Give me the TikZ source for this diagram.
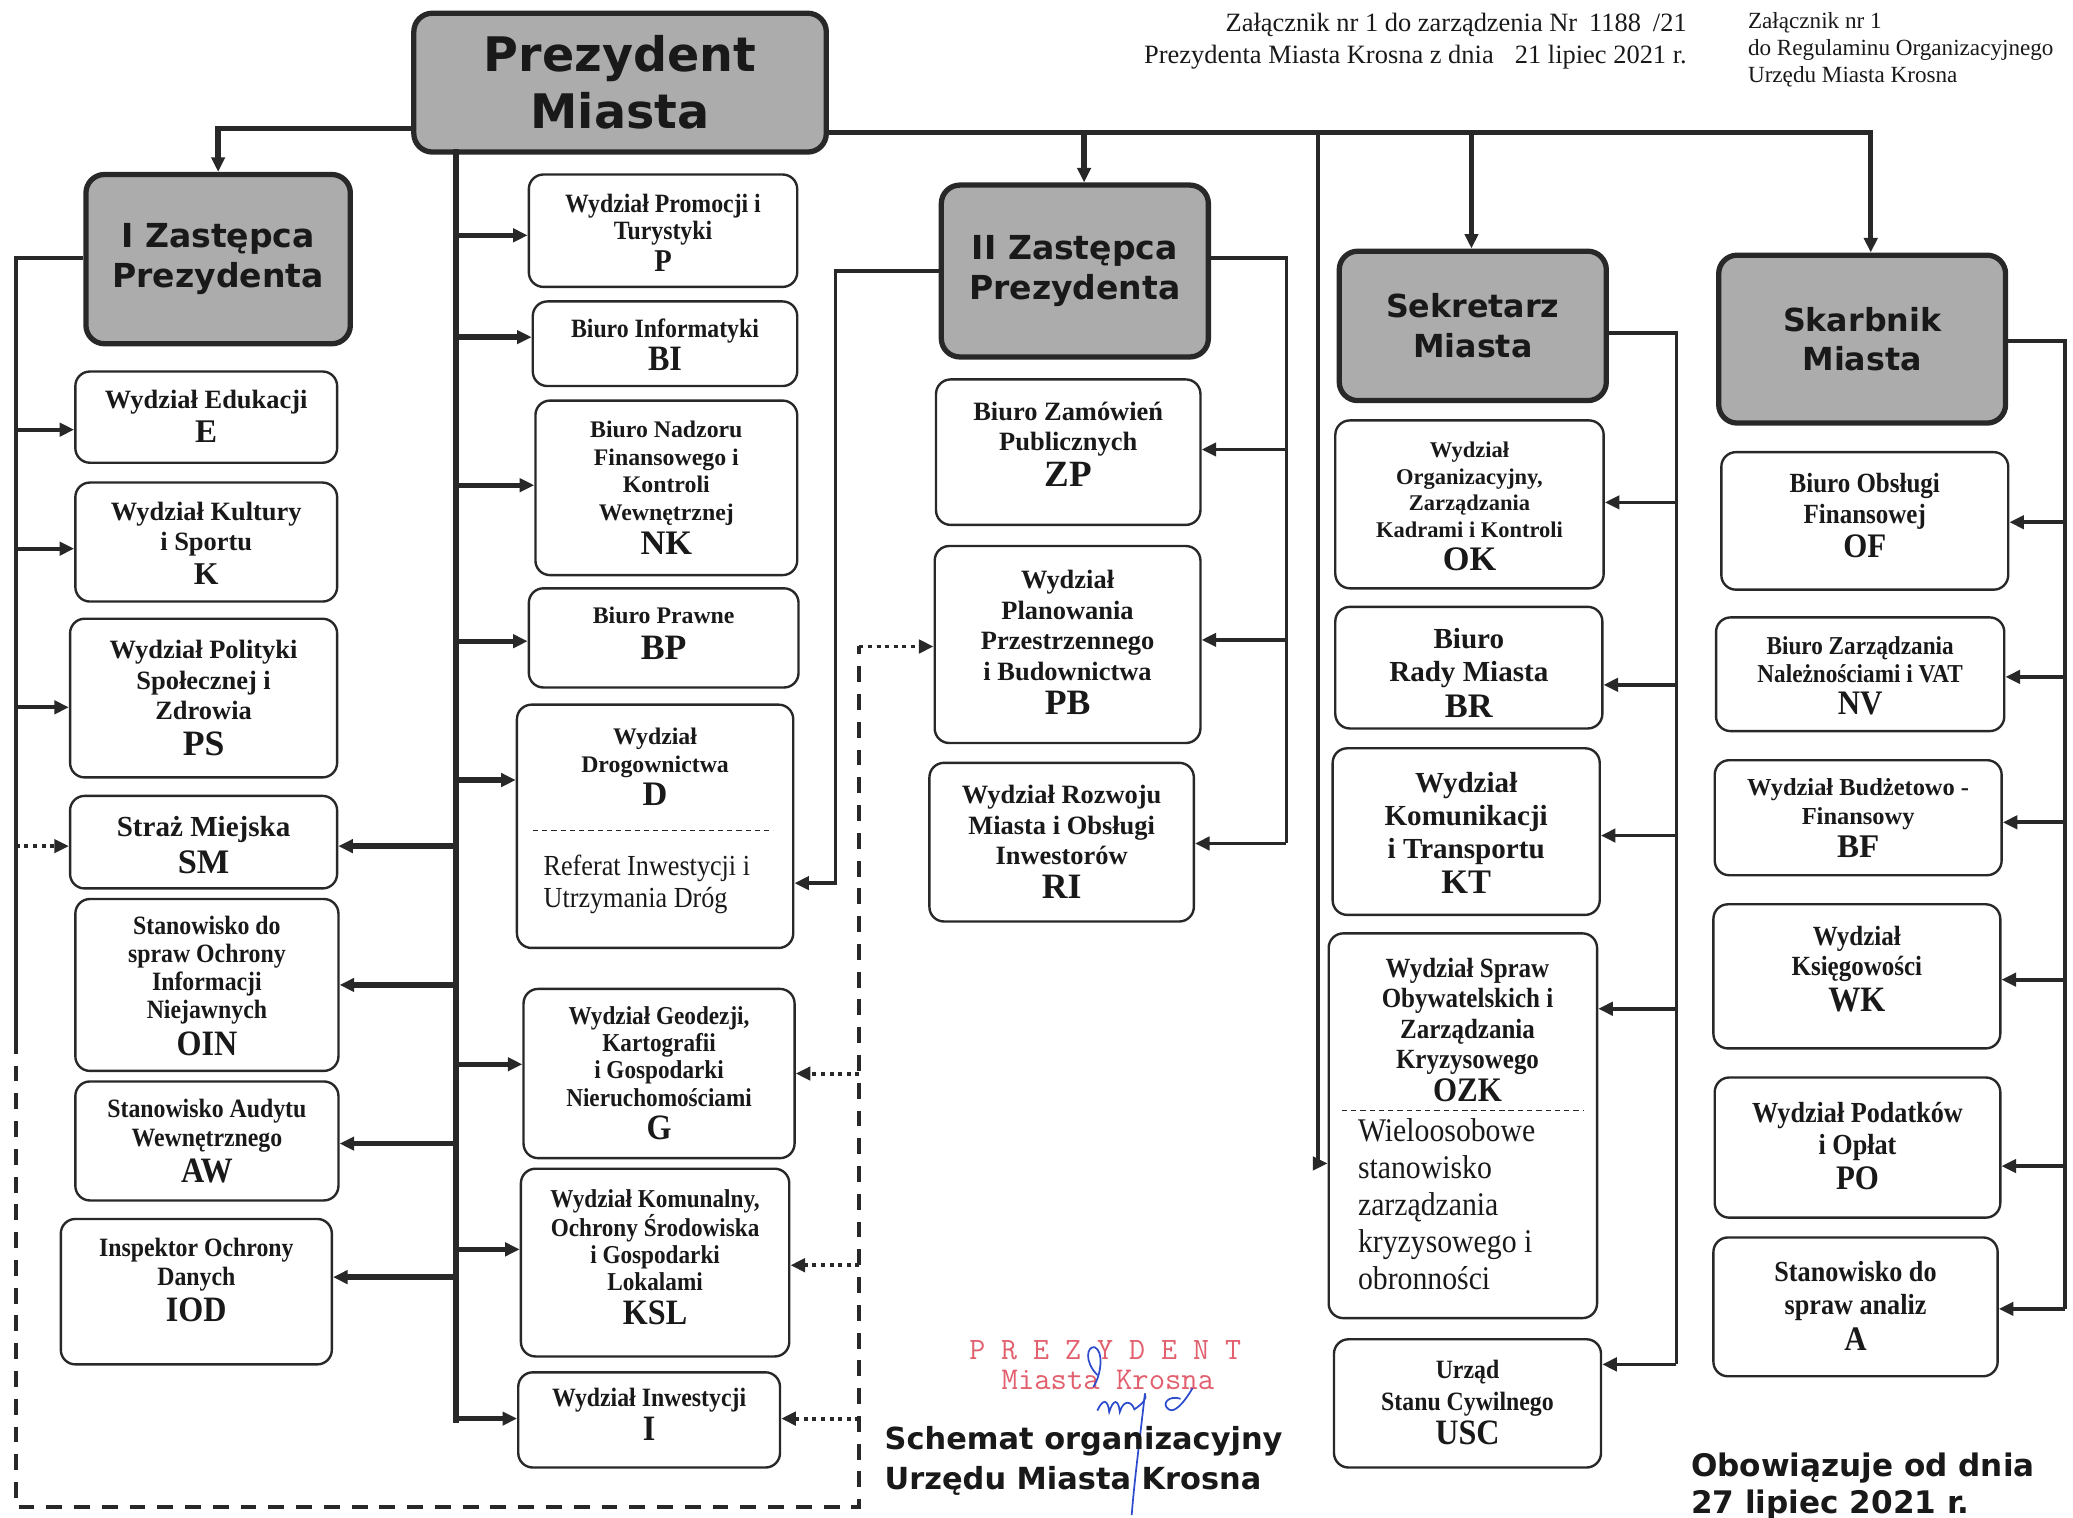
\documentclass[tikz,border=0pt]{standalone}
\usepackage{fontspec}
\setmainfont{Liberation Serif}
\newfontfamily\hsans{DejaVu Sans}
\newfontfamily\ser{Liberation Serif}
\newfontfamily\serc[FakeStretch=0.9]{Liberation Serif}
\usetikzlibrary{arrows.meta}
\newcommand\fsz[2]{\fontsize{#1}{#2}\selectfont}
\newcommand\nbf{\ser\bfseries}
\newcommand\cbf{\serc\bfseries}
\definecolor{gfill}{RGB}{172,172,172}
\definecolor{lc}{RGB}{40,40,40}
\definecolor{tc}{RGB}{25,25,25}
\definecolor{stampred}{RGB}{226,96,110}
\definecolor{inkblue}{RGB}{45,75,205}
\tikzset{
 wbox/.style={draw=lc, line width=1.8pt, rounded corners=11pt, fill=white, inner sep=0pt},
 gbox/.style={draw=lc, line width=4pt, rounded corners=14pt, fill=gfill, align=center, inner sep=0pt, text=tc},
 txt/.style={align=center, inner sep=0pt, text=tc},
 bus/.style={draw=lc, line width=4pt},
 sub/.style={draw=lc, line width=2.8pt},
 arr/.style={-{Triangle[length=11pt,width=10pt]}},
 dotline/.style={draw=lc, line width=3pt, dash pattern=on 3pt off 3.5pt},
 dashline/.style={draw=lc, line width=3pt, dash pattern=on 12pt off 9pt},
 sep/.style={draw=lc, line width=0.8pt, dash pattern=on 4pt off 3pt},
}
\newcommand\ubox[8]{%
 \node[wbox, minimum width=#4pt, minimum height=#5pt] (#1) at (#2,#3) {};
 \node[txt, font=#7] (#1t) at (#2,#6) {#8};}
\begin{document}
\begin{tikzpicture}[x=1pt,y=-1pt]
\useasboundingbox (0,0) rectangle (1568,1148);
\fill[white] (0,0) rectangle (1568,1148);

% header
\node[txt, anchor=east, font=\ser\fsz{20}{22}] (h1) at (1276,19) {Załącznik nr 1 do zarządzenia Nr\hspace{9pt}1188\hspace{9pt}/21};
\node[txt, anchor=east, font=\ser\fsz{20}{22}] (h2) at (1276,43) {Prezydenta Miasta Krosna z dnia\hspace{16pt}21 lipiec 2021 r.};
\node[txt, anchor=north west, align=left, font=\ser\fsz{17.5}{20.5}] (h3) at (1322,9) {Załącznik nr 1\\do Regulaminu Organizacyjnego\\Urzędu Miasta Krosna};

% heads
\node[gbox, font=\hsans\bfseries\fsz{36}{43}, minimum width=312pt, minimum height=105pt] (P0) at (469,62.5) {Prezydent\\Miasta};
\node[gbox, font=\hsans\bfseries\fsz{25}{30}, minimum width=200pt, minimum height=128pt] (Z1) at (165,196) {I Zastępca\\Prezydenta};
\node[gbox, font=\hsans\bfseries\fsz{25}{30}, minimum width=202pt, minimum height=130pt] (Z2) at (813,205) {II Zastępca\\Prezydenta};
\node[gbox, font=\hsans\bfseries\fsz{24}{30}, minimum width=202pt, minimum height=113pt] (SEK) at (1114,246.5) {Sekretarz\\Miasta};
\node[gbox, font=\hsans\bfseries\fsz{24}{30}, minimum width=217pt, minimum height=127pt] (SKA) at (1408.5,256.5) {Skarbnik\\Miasta};

% column 1
\ubox{E}{156}{315.5}{198}{69}{315}{\nbf\fsz{20}{23}}{Wydział Edukacji\\[3pt]\fsz{25}{25}E}
\ubox{K}{156}{410}{198}{90}{411}{\nbf\fsz{20}{23}}{Wydział Kultury\\i Sportu\\[3pt]\fsz{24}{24}K}
\ubox{PS}{154}{528}{202}{120}{528}{\nbf\fsz{20}{23}}{Wydział Polityki\\Społecznej i\\Zdrowia\\[4pt]\fsz{27}{27}PS}
\ubox{SM}{154}{637}{202}{70}{639}{\nbf\fsz{22}{25}}{Straż Miejska\\[3pt]\fsz{26}{26}SM}
\ubox{OIN}{156.5}{745}{199}{130}{746}{\cbf\fsz{20}{21}}{Stanowisko do\\spraw Ochrony\\Informacji\\Niejawnych\\[5pt]\fsz{27}{27}OIN}
\ubox{AW}{156.5}{863}{199}{90}{863}{\cbf\fsz{20}{22}}{Stanowisko Audytu\\Wewnętrznego\\[4pt]\fsz{27}{27}AW}
\ubox{IOD}{148.5}{977}{205}{110}{968}{\cbf\fsz{20}{22}}{Inspektor Ochrony\\Danych\\[4pt]\fsz{27}{27}IOD}

% column 2
\ubox{P}{501.5}{174.5}{203}{85}{176}{\cbf\fsz{20}{21}}{Wydział Promocji i\\Turystyki\\[3pt]\fsz{24}{24}P}
\ubox{BI}{503}{260}{200}{64}{261}{\cbf\fsz{20}{22}}{Biuro Informatyki\\[3pt]\fsz{27}{27}BI}
\ubox{NK}{504}{369}{198}{132}{369}{\nbf\fsz{18}{21}}{Biuro Nadzoru\\Finansowego i\\Kontroli\\Wewnętrznej\\[5pt]\fsz{26}{26}NK}
\ubox{BP}{502}{482.5}{204}{75}{479}{\nbf\fsz{18}{22}}{Biuro Prawne\\[5pt]\fsz{27}{27}BP}
\node[wbox, minimum width=209pt, minimum height=184pt] (D) at (495.5,625) {};
\node[txt, font=\nbf\fsz{18}{21}] (Dt) at (495.5,580) {Wydział\\Drogownictwa\\[4pt]\fsz{26}{26}D};
\draw[sep] (403,628) -- (585,628);
\node[txt, anchor=west, align=left, font=\serc\fsz{22}{24}] (Dr) at (411,669) {Referat Inwestycji i\\Utrzymania Dróg};
\ubox{G}{498.5}{812}{205}{128}{812}{\cbf\fsz{19.5}{20.5}}{Wydział Geodezji,\\Kartografii\\i Gospodarki\\Nieruchomościami\\[5pt]\fsz{27}{27}G}
\ubox{KSL}{495.5}{955}{203}{142}{951}{\cbf\fsz{19.5}{20.5}}{Wydział Komunalny,\\Ochrony Środowiska\\i Gospodarki\\Lokalami\\[5pt]\fsz{27}{27}KSL}
\ubox{I}{491}{1074}{198}{72}{1070}{\cbf\fsz{20}{24}}{Wydział Inwestycji\\[2pt]\fsz{27}{27}I}

% column 3
\ubox{ZP}{808}{342}{200}{110}{336}{\nbf\fsz{20}{23}}{Biuro Zamówień\\Publicznych\\[4pt]\fsz{28}{28}ZP}
\ubox{PB}{807.5}{487.5}{201}{149}{486}{\nbf\fsz{20}{23}}{Wydział\\Planowania\\Przestrzennego\\i Budownictwa\\[3pt]\fsz{27}{27}PB}
\ubox{RI}{803}{637}{200}{120}{637}{\nbf\fsz{20}{23}}{Wydział Rozwoju\\Miasta i Obsługi\\Inwestorów\\[3pt]\fsz{27}{27}RI}

% column 4
\ubox{OK}{1111.5}{381.5}{203}{127}{383}{\nbf\fsz{17}{20}}{Wydział\\Organizacyjny,\\Zarządzania\\Kadrami i Kontroli\\[5pt]\fsz{26}{26}OK}
\ubox{BR}{1111}{505}{202}{92}{509}{\nbf\fsz{22}{25}}{Biuro\\Rady Miasta\\[2pt]\fsz{26}{26}BR}
\ubox{KT}{1109}{629}{202}{126}{630}{\nbf\fsz{22}{25}}{Wydział\\Komunikacji\\i Transportu\\[2pt]\fsz{26}{26}KT}
\node[wbox, minimum width=203pt, minimum height=291pt] (OZK) at (1106.5,851.5) {};
\node[txt, font=\cbf\fsz{21}{23}] (OZKt) at (1110,779) {Wydział Spraw\\Obywatelskich i\\Zarządzania\\Kryzysowego\\[2pt]\fsz{26}{26}OZK};
\draw[sep] (1015,840) -- (1198,840);
\node[txt, anchor=west, align=left, font=\serc\fsz{25}{28}] (OZKr) at (1027,911) {Wieloosobowe\\stanowisko\\zarządzania\\kryzysowego i\\obronności};
\ubox{USC}{1110}{1061.5}{202}{97}{1061}{\cbf\fsz{20}{24}}{Urząd\\Stanu Cywilnego\\[2pt]\fsz{27}{27}USC}

% column 5
\ubox{OF}{1410.5}{394}{217}{104}{390}{\cbf\fsz{21}{23}}{Biuro Obsługi\\Finansowej\\[3pt]\fsz{26}{26}OF}
\ubox{NV}{1407}{510}{218}{86}{511}{\cbf\fsz{19.5}{21}}{Biuro Zarządzania\\Należnościami i VAT\\[3pt]\fsz{26}{26}NV}
\ubox{BF}{1405.5}{618.5}{217}{87}{619}{\nbf\fsz{18.5}{22}}{Wydział Budżetowo -\\Finansowy\\[3pt]\fsz{25}{25}BF}
\ubox{WK}{1404.5}{738.5}{217}{109}{733}{\cbf\fsz{21}{23}}{Wydział\\Księgowości\\[4pt]\fsz{27}{27}WK}
\ubox{PO}{1405}{868}{216}{106}{867}{\cbf\fsz{22}{24}}{Wydział Podatków\\i Opłat\\[3pt]\fsz{26}{26}PO}
\ubox{A}{1403.5}{988.5}{215}{105}{988}{\cbf\fsz{22}{25}}{Stanowisko do\\spraw analiz\\[2pt]\fsz{26}{26}A}

% top-level connectors
\coordinate (tl) at (165,97);
\draw[bus,arr] (P0.west |- tl) -- (tl) -- (Z1.north);
\coordinate (tr) at (1415,100);
\draw[bus,arr] (P0.east |- tr) -- (tr) -- (tr |- SKA.north);
\coordinate (t2) at (820,100);
\draw[bus,arr] (t2) -- (t2 |- Z2.north);
\coordinate (t3) at (1113,100);
\draw[bus,arr] (t3) -- (t3 |- SEK.north);
\coordinate (t4) at (997,100);
\coordinate (o4) at (997,880);
\draw[sub,arr] (t4) -- (o4) -- (o4 -| OZK.west);

% president bus
\coordinate (bt) at (345,113);
\coordinate (bb) at (345,1076);
\draw[bus] (bt) -- (bb);
\foreach \nm/\yy in {P/178,BI/255,NK/367,BP/485,D/590,G/805,KSL/945,I/1073}
 {\coordinate (b\nm) at (345,\yy); \draw[bus,arr] (b\nm) -- (b\nm -| \nm.west);}
\foreach \nm/\yy in {SM/640,OIN/745,AW/865,IOD/966}
 {\coordinate (b\nm) at (345,\yy); \draw[bus,arr] (b\nm) -- (b\nm -| \nm.east);}

% I deputy
\coordinate (l1) at (12,195);
\coordinate (l2) at (12,785);
\draw[sub] (Z1.west |- l1) -- (l1) -- (l2);
\foreach \nm/\yy in {E/325,K/415,PS/535}
 {\coordinate (l\nm) at (12,\yy); \draw[sub,arr] (l\nm) -- (l\nm -| \nm.west);}
\coordinate (lSM) at (12,640);
\draw[dotline,arr] (lSM) -- (lSM -| SM.west);
\coordinate (lb) at (12,1140);
\coordinate (rb) at (650,1140);
\coordinate (rt) at (650,489);
\draw[dashline] (l2) -- (lb) -- (rb) -- (rt);
\draw[dotline,arr] (rt) -- (rt -| PB.west);
\foreach \nm/\yy in {G/812,KSL/957,I/1073}
 {\coordinate (d\nm) at (650,\yy); \draw[dotline,arr] (d\nm) -- (d\nm -| \nm.east);}

% II deputy
\coordinate (z2l) at (632,205);
\coordinate (z2d) at (632,668);
\draw[sub,arr] (Z2.west) -- (z2l) -- (z2d) -- (z2d -| D.east);
\coordinate (z2r) at (973,195);
\coordinate (z2b) at (973,638);
\draw[sub] (Z2.east |- z2r) -- (z2r) -- (z2b);
\foreach \nm/\yy in {ZP/340,PB/484,RI/638}
 {\coordinate (r\nm) at (973,\yy); \draw[sub,arr] (r\nm) -- (r\nm -| \nm.east);}

% Sekretarz
\coordinate (s1) at (1268,252);
\coordinate (s2) at (1268,1032);
\draw[sub] (SEK.east |- s1) -- (s1) -- (s2);
\foreach \nm/\yy in {OK/380,BR/518,KT/632,OZK/763,USC/1032}
 {\coordinate (s\nm) at (1268,\yy); \draw[sub,arr] (s\nm) -- (s\nm -| \nm.east);}

% Skarbnik
\coordinate (k1) at (1562,258);
\coordinate (k2) at (1562,990);
\draw[sub] (SKA.east |- k1) -- (k1) -- (k2);
\foreach \nm/\yy in {OF/395,NV/512,BF/622,WK/741,PO/882,A/990}
 {\coordinate (k\nm) at (1562,\yy); \draw[sub,arr] (k\nm) -- (k\nm -| \nm.east);}

% stamp and signature
\node[txt, text=stampred, font=\ttfamily\fsz{23.5}{24}] (st1) at (836,1021) {P R E Z Y D E N T};
\node[txt, text=stampred, font=\ttfamily\fsz{24}{24}] (st2) at (838,1044) {Miasta Krosna};
\draw[inkblue, line width=1.3pt] (830,1040) .. controls (820,1030) and (822,1018) .. (828,1019) .. controls (835,1022) and (833,1040) .. (827,1049);
\draw[inkblue, line width=1.3pt] (830,1067) .. controls (834,1058) and (838,1058) .. (839,1068) .. controls (842,1058) and (846,1058) .. (847,1068) .. controls (850,1058) and (856,1060) .. (858,1066) .. controls (864,1062) and (868,1058) .. (866,1054);
\draw[inkblue, line width=1.3pt] (866,1054) .. controls (862,1090) and (858,1120) .. (856,1146);
\draw[inkblue, line width=1.3pt] (902,1050) .. controls (895,1062) and (888,1069) .. (884,1066) .. controls (878,1062) and (884,1055) .. (893,1058);

% bottom texts
\node[txt, anchor=west, align=left, text=tc, font=\hsans\bfseries\fsz{23}{30}] (sch) at (669,1105) {Schemat organizacyjny\\Urzędu Miasta Krosna};
\node[txt, anchor=west, align=left, text=tc, font=\hsans\bfseries\fsz{23.5}{28}] (obo) at (1279,1124) {Obowiązuje od dnia\\27 lipiec 2021 r.};
\end{tikzpicture}
\end{document}
